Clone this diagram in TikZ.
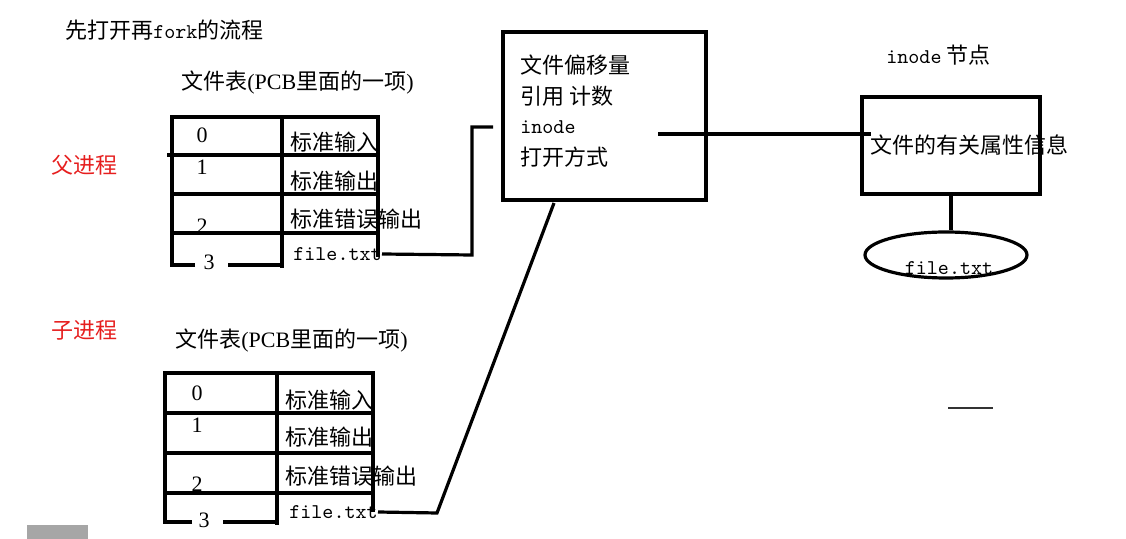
\documentclass[tikz,border=0pt]{standalone}
\usepackage{fontspec}
\setmainfont{Liberation Serif}
\newfontfamily\cjk{Noto Sans CJK SC}
\usepackage{tikz}
\usetikzlibrary{calc, shapes.geometric}
\usepackage{xcolor}
\definecolor{procred}{RGB}{230,30,30}
\newcommand\lat[1]{{\ttfamily\fontsize{10.5}{12}\selectfont #1}}
\newcommand\ser[1]{{\rmfamily #1}}

\begin{document}
\begin{tikzpicture}[x=0.5pt, y=-0.5pt,
    cn/.style={font=\cjk\fontsize{11}{13}\selectfont, inner sep=0pt},
    fname/.style={font=\ttfamily\fontsize{10.5}{12}\selectfont, inner sep=0pt},
    num/.style={font=\rmfamily\fontsize{11}{13}\selectfont, inner sep=0pt},
    tbl/.style={line width=1.6pt},
    box/.style={draw, line width=1.6pt, inner sep=0pt}]

    \useasboundingbox (0,0) rectangle (1126,539);

    % Title and labels
    \node[cn, anchor=west] (title) at (65,30) {先打开再\lat{fork}的流程};
    \node[cn, anchor=west] (tab1) at (181,83) {文件表\ser{(PCB}里面的一项\ser{)}};
    \node[cn, anchor=west] (tab2) at (175,341) {文件表\ser{(PCB}里面的一项\ser{)}};
    \node[cn, procred] (parent) at (85,165) {父进程};
    \node[cn, procred] (child) at (85,330) {子进程};

    % File table of the parent
    \draw[tbl] (195,265) -- (172,265) -- (172,117) -- (378,117) -- (378,257);
    \draw[tbl] (167,155) -- (378,155);
    \draw[tbl] (172,194) -- (378,194);
    \draw[tbl] (172,233) -- (378,233);
    \draw[tbl] (282,117) -- (282,268);
    \draw[tbl] (228,265) -- (282,265);

    \node[num] (p0) at (202,135) {0};
    \node[num] (p1) at (202,167) {1};
    \node[num] (p2) at (202,226) {2};
    \node[num] (p3) at (209,262) {3};
    \node[cn, anchor=west] (pin) at (290,142) {标准输入};
    \node[cn, anchor=west] (pout) at (290,181) {标准输出};
    \node[cn, anchor=west] (perr) at (290,219) {标准错误输出};
    \node[fname, anchor=west] (f1) at (293,254) {file.txt};

    % File table of the child
    \draw[tbl] (192,522) -- (165,522) -- (165,373) -- (373,373) -- (373,512);
    \draw[tbl] (163,413) -- (373,413);
    \draw[tbl] (165,453) -- (373,453);
    \draw[tbl] (165,493) -- (373,493);
    \draw[tbl] (277,373) -- (277,525);
    \draw[tbl] (223,522) -- (277,522);

    \node[num] (c0) at (197,393) {0};
    \node[num] (c1) at (197,425) {1};
    \node[num] (c2) at (197,484) {2};
    \node[num] (c3) at (204,520) {3};
    \node[cn, anchor=west] (cin) at (285,400) {标准输入};
    \node[cn, anchor=west] (cout) at (285,437) {标准输出};
    \node[cn, anchor=west] (cerr) at (285,476) {标准错误输出};
    \node[fname, anchor=west] (f2) at (289,512) {file.txt};

    % Open file entry
    \node[box, minimum width=101.5pt, minimum height=84pt] (fd) at (604.5,116) {};
    \node[cn, anchor=west] (off) at (520,65) {文件偏移量};
    \node[cn, anchor=west] (ref) at (520,96) {引用 计数};
    \node[fname, anchor=west] (fdino) at (520,127) {inode};
    \node[cn, anchor=west] (mode) at (520,157) {打开方式};

    % inode
    \node[cn, anchor=west] (inotitle) at (886,55) {\lat{inode} 节点};
    \node[box, minimum width=89pt, minimum height=48.5pt] (ino) at (951,145.5) {};
    \node[cn] (attr) at (969,145) {文件的有关属性信息};
    \node[draw, ellipse, line width=1.6pt, minimum width=81pt, minimum height=23pt] (disk) at (946,255) {};
    \node[fname] (disktxt) at (949,268) {file.txt};

    % Connectors
    \coordinate (k1) at (472,255);
    \coordinate (k2) at (472,127);
    \coordinate (k3) at (493,127);
    \draw[line width=1.6pt] (f1.east) -- (k1) -- (k2) -- (k3);

    \coordinate (m1) at (437,513);
    \coordinate (m2) at (554,203);
    \draw[line width=1.6pt] (f2.east) -- (m1) -- (m2);

    \coordinate (fdI) at (658,134);
    \draw[line width=1.6pt] (fdI) -- ([xshift=5.5pt]ino.west |- fdI);
    \draw[line width=2pt] (ino.south) -- (ino.south |- disk.north);

    % Stray marks
    \fill[black!35] (27,525) rectangle (88,539);
    \draw[black!80, line width=1pt] (948,408) -- (993,408);

\end{tikzpicture}
\end{document}
